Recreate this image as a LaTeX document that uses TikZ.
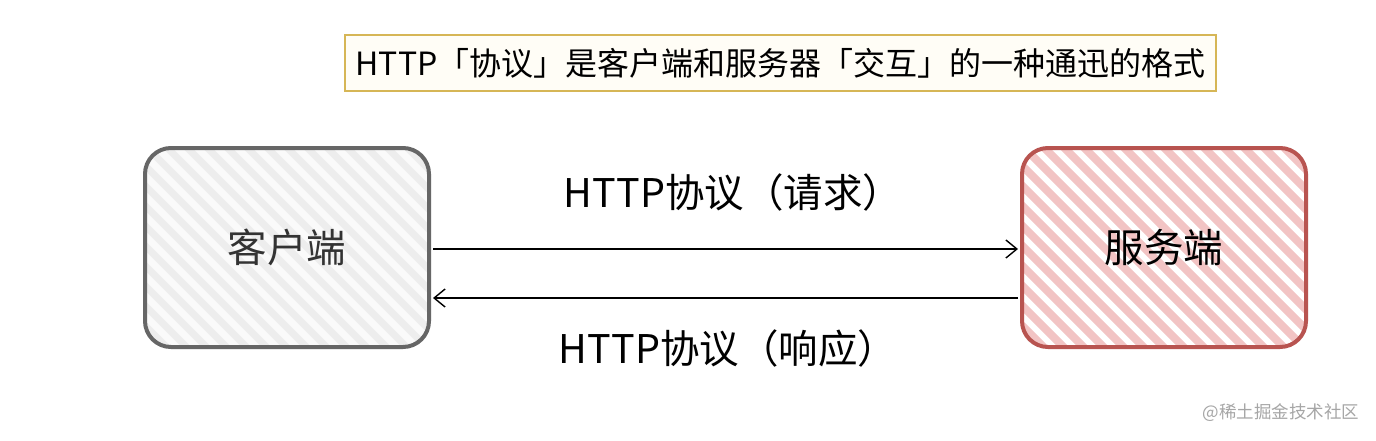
\documentclass[tikz,border=0pt]{standalone}
\usepackage{fontspec}
\setmainfont{Noto Sans CJK SC}
\usetikzlibrary{arrows.meta,calc}
\definecolor{cgray}{HTML}{666666}
\definecolor{cback}{HTML}{FAFAFA}
\definecolor{chatch}{HTML}{EDEDED}
\definecolor{sred}{HTML}{B85450}
\definecolor{spink}{HTML}{F2C4C4}
\definecolor{tgold}{HTML}{D6B656}
\definecolor{tfill}{HTML}{FFFDF6}
\begin{document}
\begin{tikzpicture}[x=1pt,y=-1pt,
  box/.style={rounded corners=26pt,minimum width=284pt,minimum height=199pt,line width=4pt,inner sep=0pt},
  biglabel/.style={font=\fontsize{39.5}{44}\selectfont},
  conn/.style={line width=1.4pt,-{Straight Barb[length=11pt,width=18pt,line width=1.4pt]}},
]
\useasboundingbox (0,0) rectangle (1376,440);
\fill[white] (0,0) rectangle (1376,440);

\node[box,draw=cgray,fill=cback,text=black!80,biglabel,
  path picture={\foreach \i in {-500,-480,...,500}{\draw[chatch,line width=7pt] ($(path picture bounding box.center)+(\i,0)+(-220,-220)$) -- ++(440,440);}}]
  (client) at (287,247.5) {客户端};

\node[box,draw=sred,fill=white,text=black,biglabel,
  path picture={\foreach \i in {-500,-480,...,500}{\draw[spink,line width=8pt] ($(path picture bounding box.center)+(\i,0)+(-220,-220)$) -- ++(440,440);}}]
  (server) at (1164,247.5) {服务端};

\node[draw=tgold,fill=tfill,line width=1.5pt,minimum width=871pt,minimum height=56pt,inner sep=0pt,
  font=\fontsize{32}{36}\selectfont] (title) at (780.5,63) {HTTP「协议」是客户端和服务器「交互」的一种通迅的格式};

\draw[conn] ($(client.east)+(2,1.5)$) -- ($(server.west)+(-2,1.5)$);
\draw[conn] ($(server.west)+(-2,50.5)$) -- ($(client.east)+(2,50.5)$);

\node[biglabel] (req) at (733,192) {HTTP协议（请求）};
\node[biglabel] (resp) at (728,348) {HTTP协议（响应）};

\node[text=black!35,font=\fontsize{17.5}{20}\selectfont] (wm) at (1281,413) {@稀土掘金技术社区};
\end{tikzpicture}
\end{document}
